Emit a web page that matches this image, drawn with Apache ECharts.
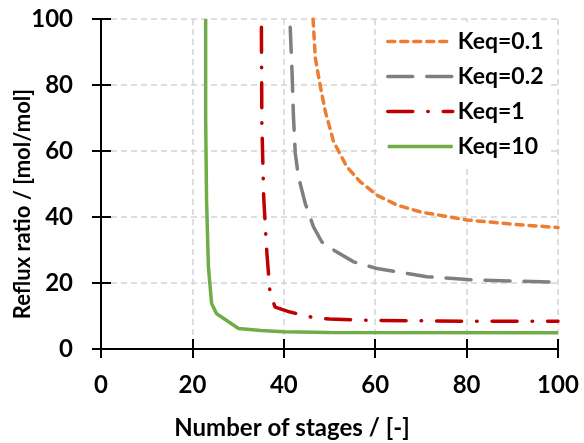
<!DOCTYPE html>
<html>
<head>
<meta charset="utf-8">
<script src="https://cdn.jsdelivr.net/npm/echarts@6/dist/echarts.min.js"></script>
<style>
  html, body { margin: 0; padding: 0; background: #fff; }
  #chart { width: 584px; height: 443px; }
</style>
</head>
<body>
<div id="chart"></div>
<script>
var xTicks = [0, 20, 40, 60, 80, 100];
var yTicks = [0, 20, 40, 60, 80, 100];

var names = ['Keq=0.1', 'Keq=0.2', 'Keq=1', 'Keq=10'];
var xTitle = 'Number of stages / [-]';
var yTitle = 'Reflux ratio / [mol/mol]';

// Keq=0.1
var stages01 = [46.4, 46.9, 48.0, 49.1, 50.9, 53.8, 56.7, 60.4, 64.8, 70.0, 80.1, 90.3, 100];
var reflux01 = [100, 88.1, 79.5, 71.9, 62.8, 55.2, 50.7, 46.6, 43.6, 41.5, 39.1, 37.8, 36.8];
// Keq=0.2
var stages02 = [41.4, 41.8, 42.1, 42.5, 43.2, 44.7, 46.5, 48.3, 50.9, 55.3, 60.4, 71.3, 80.8, 100];
var reflux02 = [97.5, 84.1, 70.9, 59.5, 52.2, 44.1, 37.0, 32.5, 30.0, 26.4, 24.4, 21.9, 21.0, 20.2];
// Keq=1
var stages1 = [35.1, 35.2, 35.6, 36.3, 37.0, 38.1, 41.4, 46.5, 50, 58.9, 80, 100];
var reflux1 = [97.5, 68.4, 46.0, 29.0, 16.8, 12.7, 11.2, 9.5, 9.1, 8.7, 8.4, 8.4];
// Keq=10
var stages10 = [22.9, 22.9, 23.1, 23.5, 24.2, 25.3, 30.1, 35, 40, 50, 100];
var reflux10 = [100, 70, 45, 24.9, 13.8, 10.7, 6.2, 5.6, 5.2, 5.0, 4.9];

function zip(xs, ys) {
    var out = [];
    for (var i = 0; i < xs.length; i++) out.push([xs[i], ys[i]]);
    return out;
}

var font = 'Lato';
var myChart = echarts.init(document.getElementById('chart'));

var axisBase = {
    type: 'value',
    min: xTicks[0],
    max: xTicks[xTicks.length - 1],
    interval: 20,
    axisLine: {show: true, lineStyle: {color: '#000', width: 2}},
    splitLine: {
        show: true,
        lineStyle: {color: '#d4d4d4', width: 1.5, type: [6, 4]}
    }
};

function mainAxis(extra) {
    return Object.assign({}, axisBase, {
        axisTick: {show: true, inside: false, length: 9, lineStyle: {color: '#000', width: 2}}
    }, extra);
}

function innerAxis(extra) {
    return Object.assign({}, axisBase, {
        axisTick: {show: true, inside: true, length: 10, lineStyle: {color: '#000', width: 2}},
        axisLabel: {show: false},
        splitLine: {show: false}
    }, extra);
}

var option = {
    animation: false,
    backgroundColor: '#fff',
    grid: {left: 101, right: 26, top: 19, bottom: 94, containLabel: false, outerBoundsMode: 'none'},
    // axis titles: Excel centres them on the whole chart, not the plot area
    graphic: [
        {
            type: 'text',
            x: 292,
            y: 428,
            style: {text: xTitle, fill: '#000', font: 'bold 24px Lato', align: 'center', verticalAlign: 'middle'}
        },
        {
            type: 'text',
            x: 23,
            y: 204,
            rotation: Math.PI / 2,
            style: {text: yTitle, fill: '#000', font: 'bold 22px Lato', align: 'center', verticalAlign: 'middle'}
        }
    ],
    legend: {
        orient: 'vertical',
        left: 378,
        top: 22,
        backgroundColor: '#fff',
        padding: [8, 6, 8, 8],
        itemWidth: 65,
        itemHeight: 14,
        itemGap: 12,
        itemStyle: {opacity: 0},
        lineStyle: {width: 3.5},
        textStyle: {color: '#000', fontFamily: font, fontWeight: 'bold', fontSize: 23, lineHeight: 19},
        data: names
    },
    xAxis: [
        mainAxis({
            position: 'bottom',
            axisLabel: {color: '#000', fontFamily: font, fontWeight: 'bold', fontSize: 24, margin: 24}
        }),
        innerAxis({position: 'bottom'})
    ],
    yAxis: [
        mainAxis({
            position: 'left',
            min: yTicks[0],
            max: yTicks[yTicks.length - 1],
            axisLabel: {color: '#000', fontFamily: font, fontWeight: 'bold', fontSize: 24, margin: 28}
        }),
        innerAxis({position: 'left', min: yTicks[0], max: yTicks[yTicks.length - 1]})
    ],
    series: [
        {
            name: names[0],
            type: 'line',
            symbol: 'none',
            clip: true,
            lineStyle: {color: '#ED7D31', width: 3.5, type: [7, 6], cap: 'round'},
            itemStyle: {color: '#ED7D31'},
            data: zip(stages01, reflux01)
        },
        {
            name: names[1],
            type: 'line',
            symbol: 'none',
            clip: true,
            lineStyle: {color: '#7F7F7F', width: 3.5, type: [25, 14], cap: 'round'},
            itemStyle: {color: '#7F7F7F'},
            data: zip(stages02, reflux02)
        },
        {
            name: names[2],
            type: 'line',
            symbol: 'none',
            clip: true,
            lineStyle: {color: '#C00000', width: 3.5, type: [25, 15, 0.5, 15], cap: 'round'},
            itemStyle: {color: '#C00000'},
            data: zip(stages1, reflux1)
        },
        {
            name: names[3],
            type: 'line',
            symbol: 'none',
            clip: true,
            lineStyle: {color: '#70AD47', width: 3.5, type: 'solid'},
            itemStyle: {color: '#70AD47'},
            data: zip(stages10, reflux10)
        }
    ]
};

myChart.setOption(option);
</script>
</body>
</html>
